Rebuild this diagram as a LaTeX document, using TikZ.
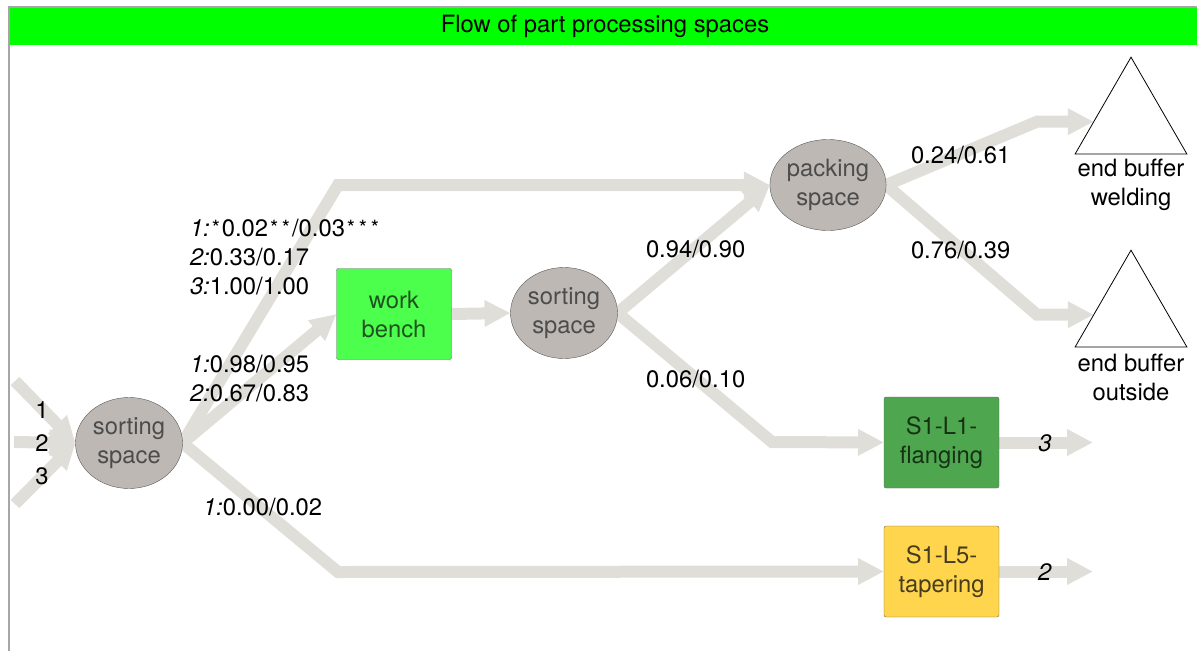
\documentclass[tikz,border=0pt]{standalone}
\usepackage{fontspec}
\setmainfont{TeX Gyre Heros}
\usetikzlibrary{arrows.meta,shapes.geometric,backgrounds}

\definecolor{spacefill}{RGB}{189,184,179}
\definecolor{flowgray}{RGB}{223,222,217}
\definecolor{benchgreen}{RGB}{77,255,77}
\definecolor{benchtext}{RGB}{32,82,32}
\definecolor{flangegreen}{RGB}{78,166,78}
\definecolor{flangetext}{RGB}{22,50,22}
\definecolor{taperyellow}{RGB}{255,213,77}
\definecolor{tapertext}{RGB}{70,60,30}
\definecolor{headgreen}{RGB}{0,255,0}

% small raised asterisk used as a footnote mark
\newcommand\fnstar{\hspace{1.9pt}\raisebox{1pt}{\fontsize{21}{21}\selectfont *}\hspace{1.9pt}}

\begin{document}
\begin{tikzpicture}[x=1pt,y=-1pt,
  every node/.style={font=\fontsize{23.8}{29}\selectfont, inner sep=0pt, outer sep=0pt},
  space/.style={ellipse, draw=black!65, fill=spacefill, text=black!70,
    minimum width=107pt, minimum height=91pt, align=center},
  station/.style={rectangle, rounded corners=2pt, draw=black!60,
    minimum width=115pt, minimum height=91pt, align=center},
  buffer/.style={regular polygon, regular polygon sides=3, draw=black,
    line width=0.8pt, minimum size=129pt},
  flow/.style={line width=12pt, draw=flowgray,
    -{Triangle[width=25pt,length=26pt]}},
  lbl/.style={anchor=west, align=left}
]
\useasboundingbox (0,0) rectangle (1197,651);

% frame and title bar
\draw[black!35, line width=1.5pt] (9,651) -- (9,7) -- (1197,7);
\fill[headgreen] (10,8) rectangle (1197,45);
\node (title) at (605,26) {Flow of part processing spaces};

% stations and spaces
\node[space] (s1) at (129,443) {sorting\\space};
\node[station, fill=benchgreen, text=benchtext] (wb) at (394,314) {work\\bench};
\node[space] (s2) at (564,313) {sorting\\space};
\node[space] (pack) at (828,185) {packing\\space};
\node[station, fill=flangegreen, text=flangetext] (fl) at (941.5,442.5) {S1-L1-\\flanging};
\node[station, fill=taperyellow, text=tapertext] (tp) at (941.5,571.5) {S1-L5-\\tapering};

% end buffers
\node[buffer] (weld) at (1131,121.7) {};
\node[buffer] (outs) at (1131,314.7) {};
\node[align=center] (weldlbl) at (1131,185) {end buffer\\welding};
\node[align=center] (outslbl) at (1131,377) {end buffer\\outside};

% free ends and bends of the flows
\coordinate (in1) at (15,381);
\coordinate (in2) at (14,442);
\coordinate (in3) at (15,504);
\coordinate (b1) at (338,185);
\coordinate (b2) at (338,572);
\coordinate (b3) at (772,442);
\coordinate (b4) at (1037,121.7);
\coordinate (b5) at (1037,314.7);
\coordinate (o1) at (1093,442.5);
\coordinate (o2) at (1093,571.5);

\begin{scope}[on background layer]
  \draw[flow] (in1) -- (s1.west);
  \draw[flow] (in2) -- (s1.west);
  \draw[flow] (in3) -- (s1.west);
  \draw[flow] (s1.east) -- (b1) -- (pack.west);
  \draw[flow] (s1.east) -- (wb.west);
  \draw[flow] (s1.east) -- (b2) -- (tp.west);
  \draw[flow] (wb.east) -- (s2.west);
  \draw[flow] (s2.east) -- (pack.west);
  \draw[flow] (s2.east) -- (b3) -- (fl.west);
  \draw[flow] (pack.east) -- (b4) -- (weld);
  \draw[flow] (pack.east) -- (b5) -- (outs);
  \draw[flow] (fl.east) -- (o1);
  \draw[flow] (tp.east) -- (o2);
\end{scope}

% flow labels
\node (l1) at (42,410) {1};
\node (l2) at (42,443) {2};
\node (l3) at (42,476) {3};
\node[lbl] (up) at (190,257) {\textit{1:}\fnstar 0.02\fnstar\fnstar/0.03\fnstar\fnstar\fnstar\\\textit{2:}0.33/0.17\\\textit{3:}1.00/1.00};
\node[lbl] (mid) at (190,378.5) {\textit{1:}0.98/0.95\\\textit{2:}0.67/0.83};
\node[lbl] (low) at (203,507) {\textit{1:}0.00/0.02};
\node[lbl] (p1) at (646,249) {0.94/0.90};
\node[lbl] (p2) at (646,379) {0.06/0.10};
\node[lbl] (p3) at (911,155) {0.24/0.61};
\node[lbl] (p4) at (911,250) {0.76/0.39};
\node (r3) at (1045,443) {\textit{3}};
\node (r2) at (1045,572) {\textit{2}};
\end{tikzpicture}
\end{document}
